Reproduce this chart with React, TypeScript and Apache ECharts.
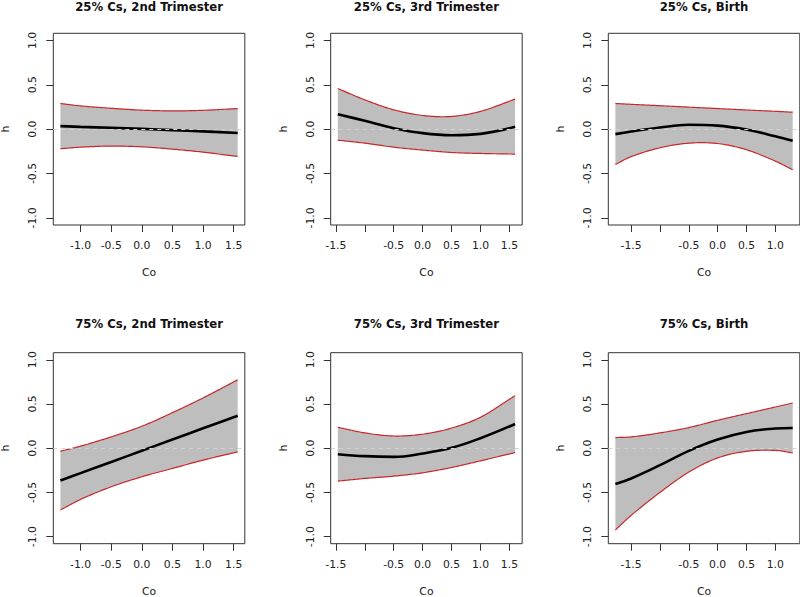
import React, { useEffect, useRef } from "react";
import * as echarts from "echarts";

// ---- data ----
const panelTitles = [
  "25% Cs, 2nd Trimester",
  "25% Cs, 3rd Trimester",
  "25% Cs, Birth",
  "75% Cs, 2nd Trimester",
  "75% Cs, 3rd Trimester",
  "75% Cs, Birth",
];

// Co grid per exposure window
const xTri2 = [-1.33, -1.0, -0.5, 0.0, 0.5, 1.0, 1.566];
const xTri3 = [-1.466, -1.0, -0.5, 0.0, 0.5, 1.0, 1.598];
const xBirth = [-1.773, -1.5, -1.0, -0.5, 0.0, 0.5, 1.0, 1.302];

// 25% Cs
const est25Tri2 = [0.034, 0.026, 0.015, 0.003, -0.011, -0.025, -0.043];
const upp25Tri2 = [0.289, 0.262, 0.235, 0.214, 0.206, 0.212, 0.232];
const low25Tri2 = [-0.221, -0.203, -0.191, -0.199, -0.225, -0.259, -0.308];

const est25Tri3 = [0.169, 0.094, 0.011, -0.045, -0.068, -0.053, 0.026];
const upp25Tri3 = [0.458, 0.33, 0.218, 0.154, 0.143, 0.2, 0.338];
const low25Tri3 = [-0.124, -0.158, -0.203, -0.236, -0.263, -0.274, -0.281];

const est25Birth = [-0.056, -0.026, 0.019, 0.049, 0.04, -0.005, -0.08, -0.131];
const upp25Birth = [0.289, 0.28, 0.264, 0.248, 0.232, 0.216, 0.201, 0.191];
const low25Birth = [-0.398, -0.31, -0.21, -0.158, -0.162, -0.232, -0.36, -0.458];

// 75% Cs
const est75Tri2 = [-0.365, -0.282, -0.156, -0.029, 0.098, 0.225, 0.368];
const upp75Tri2 = [-0.034, 0.023, 0.128, 0.248, 0.402, 0.568, 0.774];
const low75Tri2 = [-0.699, -0.579, -0.436, -0.323, -0.229, -0.135, -0.041];

const est75Tri3 = [-0.068, -0.09, -0.098, -0.06, 0.004, 0.113, 0.274];
const upp75Tri3 = [0.237, 0.173, 0.138, 0.158, 0.228, 0.35, 0.594];
const low75Tri3 = [-0.372, -0.342, -0.316, -0.278, -0.218, -0.143, -0.049];

const est75Birth = [-0.406, -0.342, -0.192, -0.03, 0.098, 0.184, 0.222, 0.229];
const upp75Birth = [0.12, 0.128, 0.173, 0.233, 0.316, 0.391, 0.466, 0.511];
const low75Birth = [-0.925, -0.76, -0.5, -0.27, -0.11, -0.035, -0.025, -0.053];

// axis ranges / ticks per column
const xRanges = [
  [-1.446, 1.682],
  [-1.589, 1.721],
  [-1.896, 1.425],
];
const xTickValues = [
  [-1.0, -0.5, 0.0, 0.5, 1.0, 1.5],
  [-1.5, -1.0, -0.5, 0.0, 0.5, 1.0, 1.5],
  [-1.5, -1.0, -0.5, 0.0, 0.5, 1.0],
];
const xLabelValues = [
  [-1.0, -0.5, 0.0, 0.5, 1.0, 1.5],
  [-1.5, -0.5, 0.0, 0.5, 1.0, 1.5],
  [-1.5, -0.5, 0.0, 0.5, 1.0],
];
const yRange = [-1.08, 1.08];
const yTickValues = [-1.0, -0.5, 0.0, 0.5, 1.0];

const panels = [
  { x: xTri2, est: est25Tri2, upp: upp25Tri2, low: low25Tri2 },
  { x: xTri3, est: est25Tri3, upp: upp25Tri3, low: low25Tri3 },
  { x: xBirth, est: est25Birth, upp: upp25Birth, low: low25Birth },
  { x: xTri2, est: est75Tri2, upp: upp75Tri2, low: low75Tri2 },
  { x: xTri3, est: est75Tri3, upp: upp75Tri3, low: low75Tri3 },
  { x: xBirth, est: est75Birth, upp: upp75Birth, low: low75Birth },
];

// ---- layout ----
const colLeft = [53.3, 330.7, 608.3];
const boxW = 191.5;
const rowTop = [33.3, 352.7];
const boxH = [191.7, 191];
const titleTop = [0.5, 317.5];

const FONT = "'DejaVu Sans', sans-serif";
const BAND = "#BEBEBE";
const RED = "#C8282A";
const BOX = "#333333";

const zip = (a: number[], b: number[]) => a.map((v, i) => [v, b[i]]);

// smooth curve drawing helper (cubic Hermite through the read points, drawing only)
function smoothPixels(
  xs: number[],
  ys: number[],
  coord: (p: number[]) => number[],
  steps = 16
): number[][] {
  const n = xs.length;
  const sec: number[] = [];
  for (let i = 0; i < n - 1; i++) sec.push((ys[i + 1] - ys[i]) / (xs[i + 1] - xs[i]));
  const m: number[] = [];
  for (let i = 0; i < n; i++) {
    if (i === 0) m.push(sec[0]);
    else if (i === n - 1) m.push(sec[n - 2]);
    else m.push((ys[i + 1] - ys[i - 1]) / (xs[i + 1] - xs[i - 1]));
  }
  const out: number[][] = [];
  for (let i = 0; i < n - 1; i++) {
    const h = xs[i + 1] - xs[i];
    for (let s = 0; s < steps; s++) {
      const t = s / steps;
      const t2 = t * t;
      const t3 = t2 * t;
      const h00 = 2 * t3 - 3 * t2 + 1;
      const h10 = t3 - 2 * t2 + t;
      const h01 = -2 * t3 + 3 * t2;
      const h11 = t3 - t2;
      const y = h00 * ys[i] + h10 * h * m[i] + h01 * ys[i + 1] + h11 * h * m[i + 1];
      out.push(coord([xs[i] + t * h, y]));
    }
  }
  out.push(coord([xs[n - 1], ys[n - 1]]));
  return out;
}

export default function App() {
  const ref = useRef<HTMLDivElement>(null);

  useEffect(() => {
    if (!ref.current) return;
    const chart = echarts.init(ref.current, undefined, { renderer: "svg" });

    const grids: any[] = [];
    const xAxes: any[] = [];
    const yAxes: any[] = [];
    const titles: any[] = [];
    const series: any[] = [];

    panels.forEach((p, i) => {
      const col = i % 3;
      const row = Math.floor(i / 3);
      grids.push({
        left: colLeft[col],
        top: rowTop[row],
        width: boxW,
        height: boxH[row],
        show: true,
        borderColor: BOX,
        borderWidth: 1,
        backgroundColor: "transparent",
        containLabel: false,
        outerBoundsMode: "none",
      });
      titles.push({
        text: panelTitles[i],
        left: colLeft[col] + boxW / 2,
        top: titleTop[row],
        textAlign: "center",
        padding: 0,
        textStyle: {
          fontFamily: FONT,
          fontWeight: "bold",
          fontSize: 11.7,
          color: "#111",
        },
      });
      xAxes.push({
        type: "value",
        gridIndex: i,
        min: xRanges[col][0],
        max: xRanges[col][1],
        name: "Co",
        nameLocation: "middle",
        nameGap: 42,
        nameTextStyle: { fontFamily: FONT, fontSize: 10.8, color: "#222" },
        axisLine: { show: false, onZero: false },
        splitLine: { show: false },
        axisTick: {
          show: true,
          length: 7,
          customValues: xTickValues[col],
          lineStyle: { color: BOX, width: 1 },
        },
        axisLabel: {
          customValues: xLabelValues[col],
          margin: 15,
          fontFamily: FONT,
          fontSize: 10.8,
          color: "#222",
          formatter: (v: number) => v.toFixed(1),
        },
      });
      yAxes.push({
        type: "value",
        gridIndex: i,
        min: yRange[0],
        max: yRange[1],
        name: "h",
        nameLocation: "middle",
        nameRotate: 90,
        nameGap: 42,
        nameTextStyle: { fontFamily: FONT, fontSize: 10.8, color: "#222" },
        axisLine: { show: false, onZero: false },
        splitLine: { show: false },
        axisTick: {
          show: true,
          length: 7,
          customValues: yTickValues,
          lineStyle: { color: BOX, width: 1 },
        },
        axisLabel: {
          customValues: yTickValues,
          rotate: 90,
          margin: 15,
          fontFamily: FONT,
          fontSize: 10.8,
          color: "#222",
          formatter: (v: number) => v.toFixed(1),
        },
      });

      // confidence band + red bounds (custom series drawn through the axes' scales)
      series.push({
        type: "custom",
        name: "band" + i,
        xAxisIndex: i,
        yAxisIndex: i,
        silent: true,
        z: 1,
        data: [[p.x[0], p.low[0]]],
        renderItem: (_params: any, api: any) => {
          const coord = (pt: number[]) => api.coord(pt);
          const up = smoothPixels(p.x, p.upp, coord);
          const lo = smoothPixels(p.x, p.low, coord);
          const poly = up.concat(lo.slice().reverse());
          return {
            type: "group",
            children: [
              { type: "polygon", shape: { points: poly }, style: { fill: BAND } },
              {
                type: "polyline",
                shape: { points: up },
                style: { stroke: RED, lineWidth: 1.2, fill: null },
              },
              {
                type: "polyline",
                shape: { points: lo },
                style: { stroke: RED, lineWidth: 1.2, fill: null },
              },
            ],
          };
        },
      });
      // posterior mean
      series.push({
        type: "line",
        name: "estimate" + i,
        xAxisIndex: i,
        yAxisIndex: i,
        symbol: "none",
        smooth: 0.4,
        silent: true,
        data: zip(p.x, p.est),
        lineStyle: { color: "#000", width: 2.6 },
        z: 3,
        markLine: {
          silent: true,
          symbol: ["none", "none"],
          label: { show: false },
          lineStyle: { color: "#D3D3D3", type: [4, 4], width: 1 },
          data: [{ yAxis: 0 }],
          z: 5,
        },
      });
    });

    chart.setOption({
      animation: false,
      backgroundColor: "#fff",
      title: titles,
      grid: grids,
      xAxis: xAxes,
      yAxis: yAxes,
      series,
    });

    return () => chart.dispose();
  }, []);

  return (
    <div
      ref={ref}
      style={{ position: "absolute", left: 0, top: 0, width: 800, height: 597 }}
    />
  );
}
